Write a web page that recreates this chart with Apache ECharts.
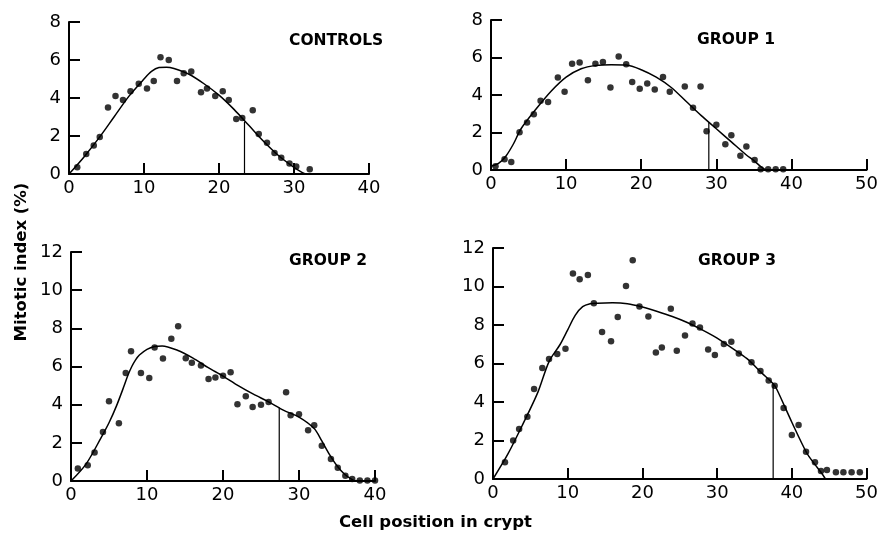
<!DOCTYPE html>
<html>
<head>
<meta charset="utf-8">
<script src="https://cdn.jsdelivr.net/npm/echarts@6/dist/echarts.min.js"></script>
<style>
  html, body { margin: 0; padding: 0; background: #fff; }
  #chart { width: 881px; height: 533px; }
</style>
</head>
<body>
<div id="chart"></div>
<script>
// panel labels and axis ranges
const panelNames = ['CONTROLS', 'GROUP 1', 'GROUP 2', 'GROUP 3']
const xMaxes = [40, 50, 40, 50]
const yMaxes = [8, 8, 12, 12]

// measured points [cell position, mitotic index]
const controlsPoints = [[1.1,0.35],[2.3,1.05],[3.3,1.5],[4.1,1.95],[5.2,3.5],[6.2,4.1],[7.2,3.9],[8.2,4.35],[9.3,4.75],[10.4,4.5],[11.3,4.9],[12.2,6.15],[13.3,6.0],[14.4,4.9],[15.3,5.3],[16.3,5.4],[17.6,4.3],[18.4,4.5],[19.5,4.1],[20.5,4.35],[21.3,3.9],[22.3,2.9],[23.1,2.95],[24.5,3.35],[25.3,2.1],[26.4,1.65],[27.4,1.1],[28.3,0.85],[29.4,0.55],[30.3,0.4],[32.1,0.25]]
const group1Points = [[0.6,0.2],[1.8,0.57],[2.7,0.43],[3.8,2.02],[4.8,2.54],[5.7,2.98],[6.6,3.69],[7.6,3.63],[8.9,4.93],[9.8,4.17],[10.8,5.67],[11.8,5.73],[12.9,4.79],[13.9,5.67],[14.9,5.76],[15.9,4.4],[17.0,6.06],[18.0,5.64],[18.8,4.7],[19.8,4.34],[20.8,4.61],[21.8,4.29],[22.9,4.96],[23.8,4.17],[25.8,4.45],[26.9,3.32],[27.9,4.45],[28.7,2.07],[30.0,2.41],[31.2,1.38],[32.0,1.86],[33.2,0.76],[34.0,1.26],[35.1,0.53],[35.9,0.04],[36.9,0.04],[37.9,0.04],[38.9,0.04]]
const group2Points = [[0.9,0.66],[2.2,0.82],[3.1,1.5],[4.2,2.57],[5.0,4.18],[6.3,3.02],[7.2,5.66],[7.9,6.8],[9.2,5.66],[10.3,5.4],[11.0,6.99],[12.1,6.42],[13.2,7.45],[14.1,8.11],[15.1,6.43],[15.9,6.19],[17.1,6.05],[18.1,5.35],[19.0,5.42],[20.0,5.52],[21.0,5.7],[21.9,4.02],[23.0,4.44],[23.9,3.88],[25.0,4.0],[26.0,4.14],[28.3,4.65],[28.9,3.44],[30.0,3.5],[31.2,2.66],[32.0,2.92],[33.0,1.85],[34.2,1.15],[35.1,0.7],[36.1,0.28],[37.0,0.1],[38.0,0.03],[39.0,0.03],[40.0,0.03]]
const group3Points = [[1.6,0.87],[2.7,2.0],[3.5,2.6],[4.6,3.24],[5.5,4.67],[6.6,5.76],[7.5,6.23],[8.6,6.49],[9.7,6.76],[10.7,10.67],[11.6,10.38],[12.7,10.6],[13.5,9.13],[14.6,7.63],[15.8,7.15],[16.7,8.41],[17.8,10.02],[18.7,11.37],[19.6,8.96],[20.8,8.44],[21.8,6.57],[22.6,6.83],[23.8,8.84],[24.6,6.66],[25.7,7.46],[26.7,8.08],[27.7,7.87],[28.8,6.73],[29.7,6.44],[30.9,7.01],[31.9,7.13],[32.9,6.52],[34.6,6.06],[35.8,5.61],[36.9,5.12],[37.7,4.84],[38.9,3.69],[40.0,2.28],[40.9,2.8],[41.9,1.42],[43.1,0.87],[43.9,0.42],[44.7,0.47],[45.9,0.35],[46.9,0.35],[48.0,0.35],[49.1,0.35]]

// fitted curves
const controlsCurve = [[0,0],[2,0.9],[4,1.9],[6,3.0],[8,4.1],[10,5.0],[11,5.4],[12,5.6],[13,5.62],[14,5.55],[16,5.25],[18,4.75],[20,4.15],[22,3.4],[24,2.55],[26,1.7],[28,0.95],[30,0.35],[31,0.1],[31.5,0]]
const group1Curve = [[0,0.2],[1,0.35],[2,0.75],[3,1.4],[4,2.2],[6,3.25],[8,4.2],[10,4.95],[12,5.4],[14,5.58],[16,5.62],[18,5.6],[20,5.35],[22,4.95],[24,4.4],[26,3.65],[28,2.9],[30,2.2],[32,1.5],[34,0.8],[35,0.5],[36,0.15],[36.6,0]]
const group2Curve = [[0,0],[2,0.9],[4,2.3],[5,3.05],[6,3.95],[7,5.0],[7.5,5.55],[8,6.0],[8.5,6.35],[9,6.6],[10,6.9],[11,7.05],[12,7.08],[14,6.85],[16,6.45],[18,5.95],[20,5.5],[22,5.0],[24,4.55],[26,4.15],[28,3.7],[30,3.35],[32,2.75],[33,2.1],[34,1.4],[35,0.8],[36,0.35],[37,0.07],[37.5,0],[40,0]]
const group3Curve = [[0,0],[2,1.3],[4,2.85],[6,4.5],[7.5,6.1],[9,7.0],[10,7.75],[11,8.5],[12,8.95],[13,9.1],[14,9.13],[16,9.15],[18,9.1],[20,8.93],[22,8.7],[24,8.44],[26,8.13],[28,7.75],[30,7.32],[32,6.8],[34,6.25],[36,5.5],[37.5,4.95],[38,4.65],[40,2.95],[42,1.35],[43,0.8],[44,0.3],[44.5,0]]

// vertical marker lines: position and height
const cutoffX = [23.4, 29.0, 27.4, 37.5]
const cutoffY = [2.75, 2.55, 3.85, 4.95]

const allPoints = [controlsPoints, group1Points, group2Points, group3Points]
const allCurves = [controlsCurve, group1Curve, group2Curve, group3Curve]

const FONT = "'DejaVu Sans', 'Liberation Sans', Arial, sans-serif"

const grids = [
  { left: 69, top: 22, width: 300, height: 152 },
  { left: 491, top: 20, width: 376, height: 150 },
  { left: 71, top: 252, width: 304, height: 229 },
  { left: 493, top: 248, width: 377, height: 231 }
]
const labelPos = [[289, 33], [697, 32], [289, 253], [698, 253]]

const chart = echarts.init(document.getElementById('chart'))

const axisLabel = { color: '#000', fontSize: 18, fontFamily: FONT }

const xAxes = grids.map((g, i) => ({
  type: 'value', gridIndex: i, min: 0, max: xMaxes[i], interval: 10,
  splitLine: { show: false },
  axisLine: { show: true, lineStyle: { color: '#000', width: 2 } },
  axisTick: { show: true, inside: true, length: 11, lineStyle: { color: '#000', width: 2 } },
  axisLabel: Object.assign({ margin: 5 }, axisLabel)
}))
const yAxes = grids.map((g, i) => ({
  type: 'value', gridIndex: i, min: 0, max: yMaxes[i], interval: 2,
  splitLine: { show: false },
  axisLine: { show: true, lineStyle: { color: '#000', width: 2 } },
  axisTick: { show: true, inside: true, length: 11, lineStyle: { color: '#000', width: 2 } },
  axisLabel: Object.assign({ margin: 8 }, axisLabel)
}))

const series = []
for (let i = 0; i < 4; i++) {
  series.push({
    type: 'line', xAxisIndex: i, yAxisIndex: i, data: allCurves[i],
    smooth: 0.3, showSymbol: false, silent: true,
    lineStyle: { color: '#000', width: 1.5 }
  })
  series.push({
    type: 'line', xAxisIndex: i, yAxisIndex: i,
    data: [[cutoffX[i], 0], [cutoffX[i], cutoffY[i]]],
    showSymbol: false, silent: true,
    lineStyle: { color: '#000', width: 1.2 }
  })
  series.push({
    type: 'scatter', xAxisIndex: i, yAxisIndex: i, data: allPoints[i],
    symbol: 'circle', symbolSize: 6.5,
    itemStyle: { color: '#000' }
  })
}

const titles = panelNames.map((name, i) => ({
  text: name, left: labelPos[i][0], top: labelPos[i][1], padding: 0,
  textStyle: { color: '#000', fontSize: 15.5, fontWeight: 'bold', fontFamily: FONT }
}))
titles.push({
  text: 'Cell position in crypt', left: 339, top: 514, padding: 0,
  textStyle: { color: '#000', fontSize: 16.5, fontWeight: 'bold', fontFamily: FONT }
})

chart.setOption({
  animation: false,
  backgroundColor: '#fff',
  title: titles,
  grid: grids,
  xAxis: xAxes,
  yAxis: yAxes,
  series: series,
  graphic: [{
    type: 'text', x: 22, y: 262, rotation: Math.PI / 2,
    style: {
      text: 'Mitotic index (%)', fill: '#000',
      font: 'bold 16.5px ' + FONT,
      align: 'center', verticalAlign: 'middle',
      textAlign: 'center', textVerticalAlign: 'middle'
    }
  }]
})
</script>
</body>
</html>
